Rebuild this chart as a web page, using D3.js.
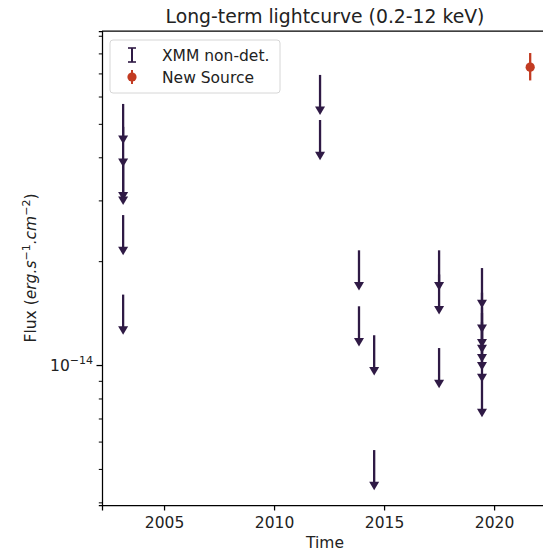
<!DOCTYPE html>
<html><head><meta charset="utf-8">
<script src="https://cdn.jsdelivr.net/npm/d3@7"></script>
<style>
html,body{margin:0;padding:0;background:#fff;}
svg{display:block;font-family:"DejaVu Sans",sans-serif;}
</style></head>
<body>
<svg id="chart" width="543" height="553"></svg>
<script>
// ---- data ----
const ulYears = [2003.14,2003.14,2003.14,2003.14,2003.14,2003.14,
                 2012.09,2012.09,
                 2013.86,2013.86,
                 2014.55,2014.55,
                 2017.5,2017.5,2017.5,
                 2019.45,2019.45,2019.45,2019.45,2019.45,2019.45,2019.45,2019.45];
const ulFlux  = [5.71e-14,4.90e-14,3.92e-14,3.80e-14,2.72e-14,1.60e-14,
                 6.93e-14,5.13e-14,
                 2.15e-14,1.48e-14,
                 1.22e-14,5.67e-15,
                 2.15e-14,1.83e-14,1.12e-14,
                 1.91e-14,1.62e-14,1.47e-14,1.415e-14,1.33e-14,1.26e-14,1.166e-14,9.23e-15];
const ulArrowFrac = 0.765;   // arrow drawn from limit down to limit*frac
const srcYears = [2021.64];
const srcFlux  = [7.3e-14];
const srcErrLo = [0.62e-14];
const srcErrHi = [0.72e-14];
const xTicks = [2005, 2010, 2015, 2020];
const seriesNames = ["XMM non-det.", "New Source"];
const title = "Long-term lightcurve (0.2-12 keV)";

// ---- layout ----
const svg = d3.select("#chart");
const L = 102, R = 548, T = 31, B = 505;
const cUL = "#2f1a45", cSrc = "#c23b22";
const x = d3.scaleLinear().domain([2002.18, 2022.45]).range([L, R]);
const y = d3.scaleLog().domain([3.93e-15, 9.29e-14]).range([B, T]);

// axes
const xAxis = d3.axisBottom(x).tickValues(xTicks).tickFormat(d3.format("d")).tickSizeOuter(0).tickSize(5.5).tickPadding(6);
const gx = svg.append("g").attr("transform", `translate(0,${B})`).call(xAxis);
gx.selectAll("text").attr("font-size", 15.5).attr("fill", "#222").attr("font-family", "DejaVu Sans");
gx.select(".domain").attr("stroke", "#000").attr("stroke-width", 1.25);
gx.selectAll(".tick line").attr("stroke", "#000").attr("stroke-width", 1.25);

// y axis: minor ticks + major 1e-14
const minor = [];
for (let e = -15; e <= -14; e++) for (let m = 1; m <= 9; m++) {
  const v = m * Math.pow(10, e);
  if (v >= y.domain()[0] && v <= y.domain()[1] && !(m === 1)) minor.push(v);
}
const gy = svg.append("g").attr("transform", `translate(${L},0)`)
  .call(d3.axisLeft(y).tickValues(minor).tickFormat("").tickSizeOuter(0).tickSize(3.2));
gy.select(".domain").attr("stroke", "#000").attr("stroke-width", 1.25);
gy.selectAll(".tick line").attr("stroke", "#000").attr("stroke-width", 1);
const gyM = svg.append("g").attr("transform", `translate(${L},0)`)
  .call(d3.axisLeft(y).tickValues([1e-14]).tickFormat("").tickSizeOuter(0).tickSize(5.5));
gyM.select(".domain").remove();
gyM.selectAll(".tick line").attr("stroke", "#000").attr("stroke-width", 1.25);
const lab = svg.append("text").attr("x", L - 9).attr("y", y(1e-14) + 6)
  .attr("text-anchor", "end").attr("font-size", 15.5).attr("fill", "#222");
lab.append("tspan").text("10");
lab.append("tspan").attr("dy", -7).attr("font-size", 11).text("−14");

// top and right spines
svg.append("line").attr("x1", L).attr("x2", R).attr("y1", T).attr("y2", T).attr("stroke", "#000").attr("stroke-width", 1.25);
svg.append("line").attr("x1", R).attr("x2", R).attr("y1", T).attr("y2", B).attr("stroke", "#000").attr("stroke-width", 1.25);

// title & labels
svg.append("text").attr("x", (L + R) / 2).attr("y", 23).attr("text-anchor", "middle")
  .attr("font-size", 18.8).attr("fill", "#222").text(title);
svg.append("text").attr("x", (L + R) / 2).attr("y", 548).attr("text-anchor", "middle")
  .attr("font-size", 15.5).attr("fill", "#222").text("Time");
const yl = svg.append("text").attr("transform", `translate(36,${(T + B) / 2}) rotate(-90)`)
  .attr("text-anchor", "middle").attr("font-size", 15.5).attr("fill", "#222");
yl.append("tspan").text("Flux (");
yl.append("tspan").attr("font-style", "italic").text("erg.s");
yl.append("tspan").attr("dy", -6).attr("font-size", 11).text("−1");
yl.append("tspan").attr("dy", 6).attr("font-style", "italic").text(".cm");
yl.append("tspan").attr("dy", -6).attr("font-size", 11).text("−2");
yl.append("tspan").attr("dy", 6).text(")");

// upper limit arrows
const ul = ulYears.map((d, i) => ({ x: d, v: ulFlux[i] }));
const gUL = svg.append("g");
gUL.selectAll("line").data(ul).join("line")
  .attr("x1", d => x(d.x)).attr("x2", d => x(d.x))
  .attr("y1", d => y(d.v)).attr("y2", d => y(d.v * ulArrowFrac) - 4)
  .attr("stroke", cUL).attr("stroke-width", 2.3);
gUL.selectAll("path").data(ul).join("path")
  .attr("d", d => {
    const cx = x(d.x), ty = y(d.v * ulArrowFrac);
    return `M${cx - 5},${ty - 8.5} L${cx + 5},${ty - 8.5} L${cx},${ty} Z`;
  })
  .attr("fill", cUL);

// new source
const src = srcYears.map((d, i) => ({ x: d, v: srcFlux[i], lo: srcErrLo[i], hi: srcErrHi[i] }));
const gS = svg.append("g");
gS.selectAll("line").data(src).join("line")
  .attr("x1", d => x(d.x)).attr("x2", d => x(d.x))
  .attr("y1", d => y(d.v + d.hi)).attr("y2", d => y(d.v - d.lo))
  .attr("stroke", cSrc).attr("stroke-width", 2.3);
gS.selectAll("circle").data(src).join("circle")
  .attr("cx", d => x(d.x)).attr("cy", d => y(d.v)).attr("r", 4.6).attr("fill", cSrc);

// legend
const lg = svg.append("g");
lg.append("rect").attr("x", 110).attr("y", 40).attr("width", 170).attr("height", 53)
  .attr("rx", 3).attr("fill", "#fff").attr("fill-opacity", 0.8).attr("stroke", "#d6d6d6").attr("stroke-width", 1);
const mx = 132, r1 = 55, r2 = 77;
lg.append("line").attr("x1", mx).attr("x2", mx).attr("y1", r1 - 7).attr("y2", r1 + 7).attr("stroke", cUL).attr("stroke-width", 2);
lg.append("line").attr("x1", mx - 4).attr("x2", mx + 4).attr("y1", r1 - 7).attr("y2", r1 - 7).attr("stroke", cUL).attr("stroke-width", 1.6);
lg.append("line").attr("x1", mx - 4).attr("x2", mx + 4).attr("y1", r1 + 7).attr("y2", r1 + 7).attr("stroke", cUL).attr("stroke-width", 1.6);
lg.append("line").attr("x1", mx).attr("x2", mx).attr("y1", r2 - 7).attr("y2", r2 + 7).attr("stroke", cSrc).attr("stroke-width", 2);
lg.append("circle").attr("cx", mx).attr("cy", r2).attr("r", 4.6).attr("fill", cSrc);
lg.append("text").attr("x", 162).attr("y", r1 + 5.5).attr("font-size", 15.5).attr("fill", "#222").text(seriesNames[0]);
lg.append("text").attr("x", 162).attr("y", r2 + 5.5).attr("font-size", 15.5).attr("fill", "#222").text(seriesNames[1]);
</script>
</body></html>
